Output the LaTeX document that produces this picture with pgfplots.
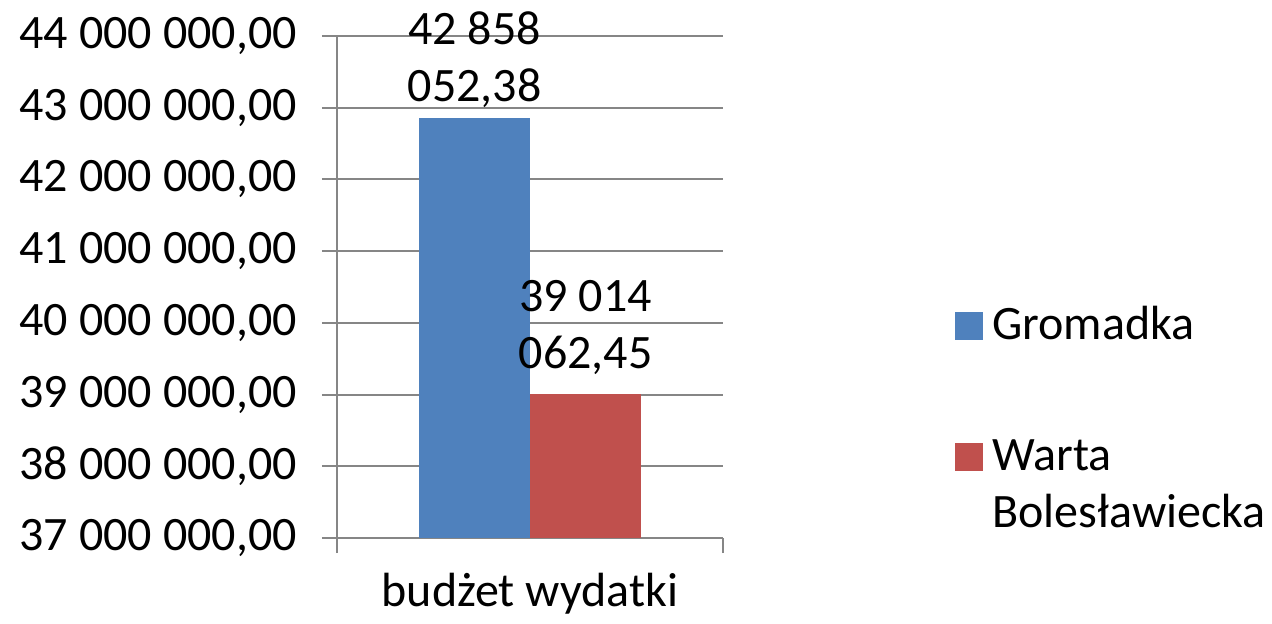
\documentclass[border=0pt]{standalone}
\usepackage{fontspec}
\setmainfont{Carlito}
\usepackage{pgfplots}
\pgfplotsset{compat=1.18}

\definecolor{gblue}{HTML}{4F81BD}
\definecolor{wred}{HTML}{C0504D}
\definecolor{axgray}{HTML}{868686}

\begin{document}
\fontsize{24}{28.5}\selectfont
\begin{tikzpicture}
\useasboundingbox (-168.5pt,-42.5pt) rectangle (467.5pt,269pt);
\begin{axis}[
    scale only axis,
    width=193pt, height=251pt,
    xmin=-0.5, xmax=0.5,
    ymin=37000000, ymax=44000000,
    scaled y ticks=false,
    ybar=0pt, bar width=55.5pt,
    clip=false,
    axis lines=left,
    axis line style={-, draw=axgray, line width=1pt},
    ymajorgrids,
    grid style={draw=axgray, line width=1pt},
    tick align=outside,
    major tick length=7.5pt,
    tick style={draw=axgray, line width=1pt},
    ytick={37000000,38000000,39000000,40000000,41000000,42000000,43000000,44000000},
    yticklabels={{37 000 000,00},{38 000 000,00},{39 000 000,00},{40 000 000,00},
                 {41 000 000,00},{42 000 000,00},{43 000 000,00},{44 000 000,00}},
    yticklabel style={xshift=-4.5pt},
    xtick={-0.5,0.5},
    xticklabels={},
    extra x ticks={0},
    extra x tick labels={budżet wydatki},
    extra x tick style={major tick length=0pt, xticklabel style={yshift=-9.5pt}},
    legend style={at={(rel axis cs:1.601,0.47)}, anchor=north west,
        draw=none, inner sep=0pt, row sep=38pt, column sep=2.5pt,
        cells={anchor=base west, inner ysep=0pt}},
    legend image code/.code={\fill[#1] (0pt,0pt) rectangle (14pt,14pt);},
]
\addplot[fill=gblue, draw=none, nodes near coords, point meta=explicit symbolic,
    nodes near coords style={align=center, anchor=south, inner sep=0pt, yshift=5pt, text=black}]
    coordinates {(0,42858052.38) [{42 858\\052,38}]};
\addlegendentry{Gromadka}
\addplot[fill=wred, draw=none, nodes near coords, point meta=explicit symbolic,
    nodes near coords style={align=center, anchor=south, inner sep=0pt, yshift=9.5pt, text=black}]
    coordinates {(0,39014062.45) [{39 014\\062,45}]};
\addlegendentry{\begin{tabular}[t]{@{}l@{}}Warta\\Bolesławiecka\end{tabular}}
\end{axis}
\end{tikzpicture}
\end{document}
